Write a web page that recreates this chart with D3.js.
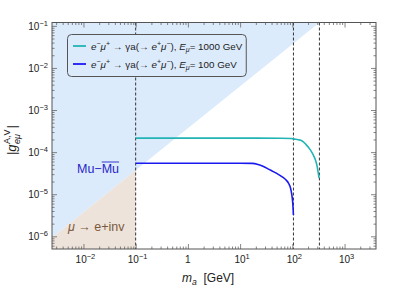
<!DOCTYPE html>
<html>
<head>
<meta charset="utf-8">
<script src="https://cdnjs.cloudflare.com/ajax/libs/d3/7.8.5/d3.min.js"></script>
<style>
  body { margin: 0; background: #fff; }
  svg { display: block; font-family: "Liberation Sans", Arial, sans-serif; }
</style>
</head>
<body>
<div class="chart"></div>
<script>
const width = 399;
const height = 287;

// curves
const mHigh = [0.1, 1, 10, 60, 95, 110, 130, 152, 180, 221, 250, 276, 295, 310, 325];
const gHigh = [2.15e-4, 2.15e-4, 2.15e-4, 2.13e-4, 2.1e-4, 2.04e-4, 1.97e-4, 1.87e-4, 1.55e-4, 1.13e-4, 8.7e-5, 6.6e-5, 4.9e-5, 3.5e-5, 2.4e-5];
const mLow = [0.1, 1, 10, 17, 22, 28, 35, 43, 52, 63, 75, 85, 93, 98, 102, 105];
const gLow = [5.45e-5, 5.45e-5, 5.45e-5, 5.4e-5, 5.1e-5, 4.55e-5, 3.95e-5, 3.45e-5, 3.05e-5, 2.62e-5, 2.2e-5, 1.8e-5, 1.35e-5, 9.5e-6, 6e-6, 3.2e-6];

// excluded regions (edge of shaded areas)
const edgeM = [0.0025, 0.1, 330];
const edgeG = [9.3e-7, 3.7e-5, 0.12];

const dashM = [0.1, 105, 330];
const xTickExp = [-2, -1, 0, 1, 2, 3];
const yTickExp = [-6, -5, -4, -3, -2, -1];
const legendLabels = ["1000", "100"];
const legendColors = ["#22b4b4", "#1a1af0"];

const x = d3.scaleLog().domain([0.0025, 4000]).range([52, 376]);
const y = d3.scaleLog().domain([5e-7, 0.12]).range([249, 22.5]);

const svg = d3.select(".chart").append("svg")
  .attr("width", width).attr("height", height);

svg.append("clipPath").attr("id", "clip")
  .append("rect")
  .attr("x", x.range()[0]).attr("y", y.range()[1])
  .attr("width", x.range()[1] - x.range()[0])
  .attr("height", y.range()[0] - y.range()[1]);

const plot = svg.append("g").attr("clip-path", "url(#clip)");

// light blue region above the edge
let bluePts = edgeM.map((m, i) => [x(m), y(edgeG[i])]);
bluePts.push([x(0.0025), y(0.12)]);
plot.append("path")
  .attr("d", d3.line()(bluePts))
  .attr("fill", "#dcebfc");

// tan region below the edge, left of 0.1 GeV
let tanPts = [[x(0.0025), y(5e-7)], [x(edgeM[0]), y(edgeG[0])], [x(edgeM[1]), y(edgeG[1])], [x(0.1), y(5e-7)]];
plot.append("path")
  .attr("d", d3.line()(tanPts))
  .attr("fill", "#eee3da");

// dashed lines
plot.selectAll(".dash")
  .data(dashM)
  .enter()
  .append("line")
  .attr("x1", d => x(d)).attr("x2", d => x(d))
  .attr("y1", y.range()[1]).attr("y2", y.range()[0])
  .attr("stroke", "#333")
  .attr("stroke-width", 1)
  .attr("stroke-dasharray", "3,2");

const line = d3.line().curve(d3.curveMonotoneX);
plot.append("path")
  .attr("d", line(mHigh.map((m, i) => [x(m), y(gHigh[i])])))
  .attr("fill", "none").attr("stroke", legendColors[0]).attr("stroke-width", 1.6);
plot.append("path")
  .attr("d", line(mLow.map((m, i) => [x(m), y(gLow[i])])))
  .attr("fill", "none").attr("stroke", legendColors[1]).attr("stroke-width", 1.6);

// ticks on all four sides, inward
let minorX = [], minorY = [];
for (let d = -7; d <= 4; d++) {
  for (let k = 2; k <= 9; k++) {
    let v = k * Math.pow(10, d);
    if (v > x.domain()[0] && v < x.domain()[1]) minorX.push(v);
    if (v > y.domain()[0] && v < y.domain()[1]) minorY.push(v);
  }
}
const majorX = xTickExp.map(e => Math.pow(10, e));
const majorY = yTickExp.map(e => Math.pow(10, e));

function ticks(axisFn, scale, vals, size, transform) {
  const g = svg.append("g")
    .attr("transform", transform)
    .call(axisFn(scale).tickValues(vals).tickSize(-size).tickFormat(""));
  g.select(".domain").remove();
  g.selectAll("line").attr("stroke", "#666").attr("stroke-width", 0.8);
}
ticks(d3.axisBottom, x, minorX, 2.5, "translate(0," + y.range()[0] + ")");
ticks(d3.axisBottom, x, majorX, 5, "translate(0," + y.range()[0] + ")");
ticks(d3.axisTop, x, minorX, 2.5, "translate(0," + y.range()[1] + ")");
ticks(d3.axisTop, x, majorX, 5, "translate(0," + y.range()[1] + ")");
ticks(d3.axisLeft, y, minorY, 2.5, "translate(" + x.range()[0] + ",0)");
ticks(d3.axisLeft, y, majorY, 5, "translate(" + x.range()[0] + ",0)");
ticks(d3.axisRight, y, minorY, 2.5, "translate(" + x.range()[1] + ",0)");
ticks(d3.axisRight, y, majorY, 5, "translate(" + x.range()[1] + ",0)");

// frame
svg.append("rect")
  .attr("x", x.range()[0]).attr("y", y.range()[1])
  .attr("width", x.range()[1] - x.range()[0])
  .attr("height", y.range()[0] - y.range()[1])
  .attr("fill", "none").attr("stroke", "#555").attr("stroke-width", 1);

// power-of-ten label
function powLabel(sel, e) {
  if (e === 0) { sel.text("1"); return; }
  sel.append("tspan").text("10");
  sel.append("tspan").attr("dy", -4).attr("font-size", 7.5).text(e < 0 ? "\u2212" + (-e) : e);
}
xTickExp.forEach(e => {
  const t = svg.append("text")
    .attr("x", x(Math.pow(10, e)) + (e === 0 ? 0 : 2))
    .attr("y", y.range()[0] + 14)
    .attr("text-anchor", "middle")
    .attr("font-size", 10).attr("fill", "#222");
  powLabel(t, e);
});
yTickExp.forEach(e => {
  const t = svg.append("text")
    .attr("x", x.range()[0] - 4)
    .attr("y", y(Math.pow(10, e)) + 4)
    .attr("text-anchor", "end")
    .attr("font-size", 10).attr("fill", "#222");
  powLabel(t, e);
});

// rich text helper: parts [text, style] style: i italic, sup, sub
function rich(sel, parts, size) {
  let shift = 0;
  parts.forEach(p => {
    const s = p[1] || "";
    let target = s.includes("sup") ? -3.5 : s.includes("sub") ? 2.5 : 0;
    const ts = sel.append("tspan").text(p[0]);
    if (target !== shift) { ts.attr("dy", target - shift); shift = target; }
    if (s.includes("i")) ts.attr("font-style", "italic");
    if (target !== 0) ts.attr("font-size", size * 0.72);
  });
}

// legend
const lg = svg.append("g");
const lgBox = lg.append("rect")
  .attr("x", 67.5).attr("y", 34.5).attr("height", 42)
  .attr("rx", 4)
  .attr("fill", "#dcebfc").attr("stroke", "#555").attr("stroke-width", 1);
let maxEnd = 0;
legendLabels.forEach((lab, i) => {
  const yy = 46 + i * 18;
  lg.append("line")
    .attr("x1", 73).attr("x2", 86).attr("y1", yy).attr("y2", yy)
    .attr("stroke", legendColors[i]).attr("stroke-width", 1.8);
  const t = lg.append("text")
    .attr("x", 91).attr("y", yy + 3.5)
    .attr("font-size", 9.8).attr("fill", "#222");
  rich(t, [["e", "i"], ["\u2212", "sup"], ["\u03bc", "i"], ["+", "sup"], [" \u2192 \u03b3a(\u2192 "],
           ["e", "i"], ["+", "sup"], ["\u03bc", "i"], ["\u2212", "sup"], ["), "],
           ["E", "i"], ["\u03bc", "i sub"], ["= " + lab + " GeV"]], 9.8);
  maxEnd = Math.max(maxEnd, 91 + t.node().getComputedTextLength());
});
lgBox.attr("width", maxEnd + 4 - 67.5);

// region labels
const mm1 = svg.append("text").attr("x", 77).attr("y", 173)
  .attr("font-size", 12.5).attr("fill", "#2424c8").text("Mu\u2212");
const w1 = mm1.node().getComputedTextLength();
const mm2 = svg.append("text").attr("x", 77 + w1).attr("y", 173)
  .attr("font-size", 12.5).attr("fill", "#2424c8").text("Mu");
const w2 = mm2.node().getComputedTextLength();
svg.append("line")
  .attr("x1", 77 + w1).attr("x2", 77 + w1 + w2)
  .attr("y1", 162).attr("y2", 162)
  .attr("stroke", "#2424c8").attr("stroke-width", 0.9);

svg.append("text").attr("x", 68).attr("y", 231)
  .attr("font-size", 12.5).attr("fill", "#7a5a3c")
  .html('<tspan font-style="italic">\u03bc</tspan> \u2192 e+inv');

// x axis title
const xt = svg.append("text").attr("x", 182).attr("y", 282)
  .attr("font-size", 12).attr("fill", "#222");
rich(xt, [["m", "i"], ["a", "i sub"], ["  [GeV]"]], 12);
xt.attr("xml:space", "preserve");

// y axis title
const yg = svg.append("g").attr("transform", "translate(16,140) rotate(-90)");
const ya = yg.append("text").attr("x", 0).attr("y", 0).attr("font-size", 13).attr("fill", "#222");
ya.append("tspan").text("|");
ya.append("tspan").attr("font-style", "italic").text("g");
const wa = ya.node().getComputedTextLength();
const ysup = yg.append("text").attr("x", wa + 0.5).attr("y", -6).attr("font-size", 9).attr("fill", "#222").text("A,V");
const ysub = yg.append("text").attr("x", wa + 0.5).attr("y", 4).attr("font-size", 9).attr("fill", "#222")
  .attr("font-style", "italic").text("e\u03bc");
const ws = Math.max(ysup.node().getComputedTextLength(), ysub.node().getComputedTextLength());
yg.append("text").attr("x", wa + ws + 1.5).attr("y", 0).attr("font-size", 13).attr("fill", "#222").text("|");
const total = wa + ws + 5;
yg.attr("transform", "translate(16," + (140 + total / 2) + ") rotate(-90)");
</script>
</body>
</html>
